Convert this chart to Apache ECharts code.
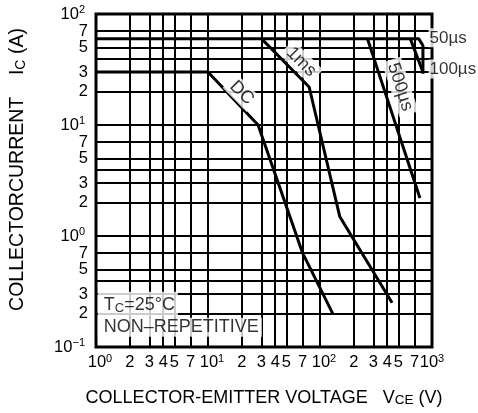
<!DOCTYPE html>
<html><head><meta charset="utf-8">
<script src="https://cdn.jsdelivr.net/npm/echarts@6/dist/echarts.min.js"></script>
<style>html,body{margin:0;padding:0;background:#fff}#c{width:478px;height:413px}</style>
</head><body><div id="c"></div>
<script>
// tick labels (real values)
const xTicks = [1,2,3,4,5,7,10,20,30,40,50,70,100,200,300,400,500,700,1000];
const yTicks = [0.1,0.2,0.3,0.5,0.7,1,2,3,5,7,10,20,30,50,70,100];
// grid lines (real values)
const xGrid = [2,3,4,5,7,10,20,30,40,50,70,100,200,300,400,500,700];
const yGrid = [0.2,0.3,0.4,0.5,0.7,1,2,3,4,5,7,10,20,30,40,50,70];
// SOA curves: VCE (V) and IC (A)
const dcV   = [1, 10, 28, 70, 130];
const dcA   = [30, 30, 10, 0.7, 0.2];
const ms1V  = [30, 80, 150, 440];
const ms1A  = [60, 22, 1.5, 0.25];
const us500V = [265, 780];
const us500A = [60, 2.2];
const us100V = [640, 830];
const us100A = [60, 30];
const us50V  = [1, 760, 830, 830];
const us50A  = [60, 60, 52, 29];
// annotation texts and anchors
const curveLabels = ['DC', '1ms', '500µs'];
const curveLabelV = [20, 68, 520];
const curveLabelA = [19.5, 37, 22];
const sideLabels = ['50µs', '100µs'];
const sideLabelA = [61, 32];

const L = Math.log10;
const pts = (vs, as) => vs.map((v, i) => [L(v), L(as[i])]);
const font = 'Liberation Sans';

function fmt(v) {
  const p = Math.round(v);
  if (Math.abs(v - p) < 1e-6) {
    const sup = '{s|' + (p < 0 ? '−' + (-p) : p) + '}';
    return (p >= 3 ? '' : '{p| }') + '{b|10}' + sup;
  }
  return '{b|' + Math.round(Math.pow(10, v - Math.floor(v + 1e-9))) + '}';
}
function fmtY(v) {
  const p = Math.round(v);
  if (Math.abs(v - p) < 1e-6) return '{b|10}{s|' + (p < 0 ? '−' + (-p) : p) + '}{q| }';
  return '{b|' + Math.round(Math.pow(10, v - Math.floor(v + 1e-9))) + '}';
}
const richTick = {
  b: {fontSize: 16.5, fontFamily: font, color: '#000', lineHeight: 19},
  s: {fontSize: 11, fontFamily: font, color: '#000', verticalAlign: 'top', lineHeight: 12},
  p: {fontSize: 11, width: 8},
  q: {fontSize: 11, width: 3}
};
const lineSer = (name, data) => ({
  type: 'line', name, data, symbol: 'none', z: 5,
  lineStyle: {color: '#000', width: 3}, animation: false
});

const chart = echarts.init(document.getElementById('c'));
chart.setOption({
  animation: false,
  grid: {left: 96, right: 46, top: 14, bottom: 66, show: true, borderColor: '#000', borderWidth: 3},
  xAxis: {
    type: 'value', min: 0, max: 3,
    axisLine: {show: false}, axisTick: {show: false}, splitLine: {show: false},
    axisLabel: {customValues: xTicks.map(L), formatter: fmt, rich: richTick, margin: 6,
      showMinLabel: true, showMaxLabel: true, hideOverlap: false},
    name: '{a|COLLECTOR-EMITTER VOLTAGE}{a|   V}{c|CE}{a| (V)}',
    nameLocation: 'middle', nameGap: 42,
    nameTextStyle: {fontSize: 18, fontFamily: font, rich: {
      a: {fontSize: 18, fontFamily: font, color: '#000'},
      c: {fontSize: 13.5, fontFamily: font, color: '#000', verticalAlign: 'bottom'}
    }}
  },
  yAxis: {
    type: 'value', min: -1, max: 2,
    axisLine: {show: false}, axisTick: {show: false}, splitLine: {show: false},
    axisLabel: {customValues: yTicks.map(L), formatter: fmtY, rich: richTick, margin: 8,
      showMinLabel: true, showMaxLabel: true, hideOverlap: false},
    name: '{a|COLLECTORCURRENT}{a|    I}{c|C}{a| (A)}',
    nameLocation: 'middle', nameGap: 68,
    nameTextStyle: {fontSize: 19.5, fontFamily: font, padding: [0, 0, 0, 22], rich: {
      a: {fontSize: 19.5, fontFamily: font, color: '#000'},
      c: {fontSize: 14, fontFamily: font, color: '#000', verticalAlign: 'bottom'}
    }}
  },
  series: [
    {
      type: 'line', data: [], z: 1, silent: true,
      markLine: {
        silent: true, symbol: 'none', animation: false,
        label: {show: false},
        lineStyle: {color: '#000', width: 2, type: 'solid'},
        data: xGrid.map(v => ({xAxis: L(v)})).concat(yGrid.map(v => ({yAxis: L(v)})))
      }
    },
    lineSer('DC', pts(dcV, dcA)),
    lineSer('1ms', pts(ms1V, ms1A)),
    lineSer('500µs', pts(us500V, us500A)),
    lineSer('100µs', pts(us100V, us100A)),
    lineSer('50µs', pts(us50V, us50A)),
    {
      type: 'scatter', z: 10, symbolSize: 1, itemStyle: {color: 'rgba(0,0,0,0)'}, silent: true,
      data: curveLabels.map((t, i) => ({
        value: [L(curveLabelV[i]), L(curveLabelA[i])],
        label: {show: true, position: 'inside', formatter: t,
          rotate: i === 2 ? -72 : -45,
          fontSize: 18, fontFamily: font, color: '#000', backgroundColor: '#fff', padding: [1, 4]}
      })).concat(sideLabels.map((t, i) => ({
        value: [3, L(sideLabelA[i])],
        label: {show: true, position: 'right', distance: -4, formatter: t,
          fontSize: 17, fontFamily: font, color: '#000', backgroundColor: '#fff', padding: [1, 0, 1, 1]}
      }))).concat([
        {value: [0.012, L(0.24)], label: {show: true, position: 'right', distance: 0,
          formatter: '{t|T}{c|C}{t|=25°C}', backgroundColor: '#fff', padding: [4, 3, 3, 6],
          rich: {t: {fontSize: 18, fontFamily: font, color: '#000', lineHeight: 19},
                 c: {fontSize: 13, fontFamily: font, color: '#000', verticalAlign: 'bottom', lineHeight: 16}}}},
        {value: [0.012, L(0.151)], label: {show: true, position: 'right', distance: 0,
          formatter: 'NON–REPETITIVE', fontSize: 18, fontFamily: font, color: '#000',
          backgroundColor: '#fff', padding: [0, 3, 0, 6], lineHeight: 19}}
      ])
    }
  ]
});
</script></body></html>
